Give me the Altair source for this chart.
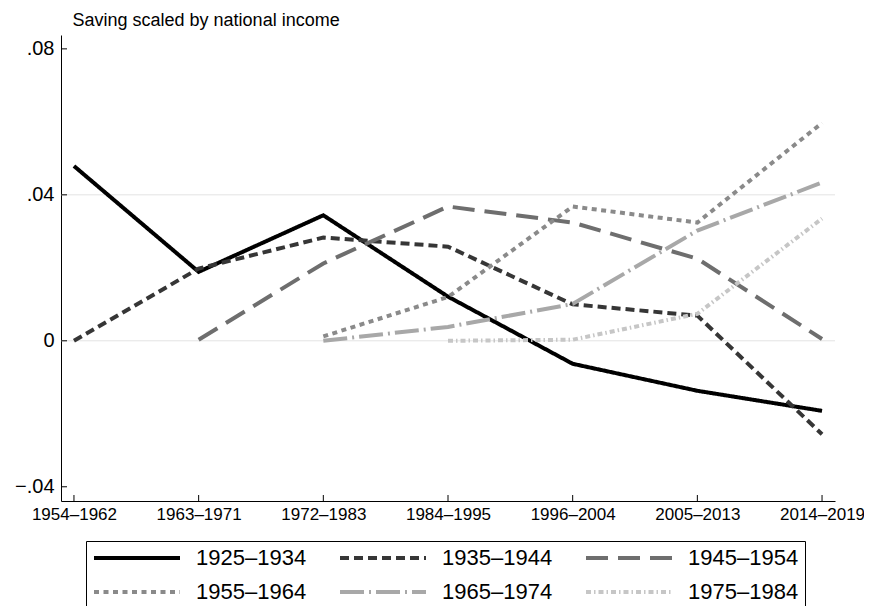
import altair as alt
import pandas as pd

periods = ["1954–1962", "1963–1971", "1972–1983", "1984–1995",
           "1996–2004", "2005–2013", "2014–2019"]
cohorts = ["1925–1934", "1935–1944", "1945–1954",
           "1955–1964", "1965–1974", "1975–1984"]

v1925 = [0.0479, 0.0189, 0.0344, 0.0121, -0.0063, -0.0137, -0.0192]
v1935 = [0.0000, 0.0198, 0.0283, 0.0258, 0.0100, 0.0069, -0.0256]
v1945 = [None, 0.0003, 0.0212, 0.0368, 0.0324, 0.0225, 0.0005]
v1955 = [None, None, 0.0012, 0.0120, 0.0368, 0.0324, 0.0597]
v1965 = [None, None, 0.0000, 0.0038, 0.0101, 0.0302, 0.0434]
v1975 = [None, None, None, 0.0000, 0.0003, 0.0074, 0.0335]
series_values = [v1925, v1935, v1945, v1955, v1965, v1975]

colors = ["#000000", "#363636", "#6e6e6e", "#8a8a8a", "#a8a8a8", "#c6c6c6"]
dashes = [[1, 0], [9, 5], [22, 10], [5, 4.5], [24, 5, 2, 5], [5, 3, 1.5, 3]]

y_ticks = [-0.04, 0, 0.04, 0.08]
y_tick_labels = ["−.04", "0", ".04", ".08"]
grid_values = [0, 0.04]

FONT = "Liberation Sans"
W, H = 774, 466

rows = []
for c, vals in zip(cohorts, series_values):
    for p, v in zip(periods, vals):
        if v is not None:
            rows.append({"cohort": c, "period": p, "value": v})
df = pd.DataFrame(rows)

label_expr = ""
for v, l in zip(y_ticks, y_tick_labels):
    label_expr += f"abs(datum.value - ({v})) < 1e-6 ? '{l}' : "
label_expr += "''"

x_scale = alt.Scale(type="point", padding=0.104, domain=periods)
y_scale = alt.Scale(domain=[-0.0439, 0.0838], nice=False, zero=False)

x_axis = alt.Axis(title=None, labelFontSize=17, labelFont=FONT,
                  labelColor="black", tickSize=0, labelPadding=5,
                  domainColor="black", domainWidth=1, grid=False,
                  labelAngle=0)
y_axis = alt.Axis(values=y_ticks, labelExpr=label_expr,
                  labelFontSize=20, labelFont=FONT, labelColor="black",
                  tickSize=0, labelPadding=7, domainColor="black",
                  domainWidth=1, grid=False,
                  title="Saving scaled by national income",
                  titleAngle=0, titleAlign="left",
                  titleBaseline="alphabetic", titleX=11, titleY=-10,
                  titleFontSize=18, titleFont=FONT,
                  titleFontWeight="normal", titleColor="black")

legend = alt.Legend(
    title=None, orient="none", legendX=25, legendY=506,
    direction="horizontal", columns=3, symbolType="stroke",
    symbolSize=7396, symbolStrokeWidth=4, clipHeight=22,
    labelFontSize=22, labelFont=FONT, labelColor="black", labelOffset=14,
    columnPadding=31, rowPadding=12, padding=6,
    strokeColor="black", fillColor="white",
)

grid = alt.Chart(pd.DataFrame({"value": grid_values})).mark_rule(
    color="#e3e3e3", strokeWidth=1
).encode(y=alt.Y("value:Q", scale=y_scale, axis=y_axis))

lines = alt.Chart(df).mark_line(strokeWidth=4, strokeCap="butt").encode(
    x=alt.X("period:N", scale=x_scale, sort=periods, axis=x_axis),
    y=alt.Y("value:Q", scale=y_scale, axis=y_axis),
    color=alt.Color("cohort:N", scale=alt.Scale(domain=cohorts, range=colors),
                    legend=legend),
    strokeDash=alt.StrokeDash("cohort:N",
                              scale=alt.Scale(domain=cohorts, range=dashes),
                              legend=legend),
    order=alt.Order("cohort:N"),
)

xticks = alt.Chart(pd.DataFrame({"period": periods})).mark_rule(
    color="black", strokeWidth=1
).encode(
    x=alt.X("period:N", scale=x_scale, sort=periods, axis=x_axis),
    y=alt.value(H), y2=alt.value(H - 6),
)

yticks = alt.Chart(pd.DataFrame({"value": y_ticks})).mark_rule(
    color="black", strokeWidth=1
).encode(
    y=alt.Y("value:Q", scale=y_scale, axis=y_axis),
    x=alt.value(0), x2=alt.value(6),
)

chart = alt.layer(grid, lines, xticks, yticks).properties(
    width=W, height=H,
    autosize=alt.AutoSizeParams(type="none"),
    padding={"left": 53, "top": 27, "right": 29, "bottom": 105},
).configure_view(stroke=None)

chart.save("out.html", embed_options={"renderer": "svg", "actions": False})
